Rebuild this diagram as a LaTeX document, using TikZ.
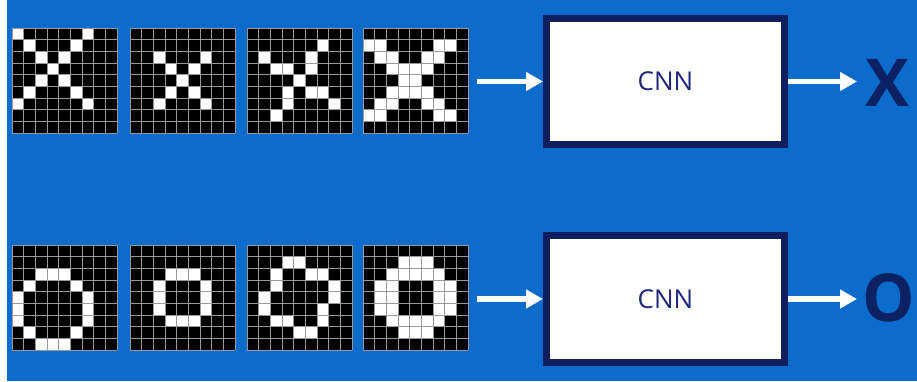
\documentclass[tikz,border=0pt]{standalone}
\usepackage{fontspec}
\setmainfont{Open Sans}
\usetikzlibrary{arrows.meta}

\definecolor{slide}{RGB}{11,108,203}
\definecolor{boxline}{RGB}{14,30,95}
\definecolor{boxtext}{RGB}{30,38,125}
\definecolor{classtext}{RGB}{12,32,100}

% side of one pixel cell (9 x 9 cells per image)
\def\cs{11.667}

\tikzset{
  gridbox/.style={fill=black, inner sep=0pt, outer sep=0pt, minimum size=105pt, anchor=north west},
  gridline/.style={draw=black!40, line width=0.8pt},
  cnnbox/.style={draw=boxline, line width=7pt, fill=white, minimum width=238pt,
    text=boxtext, font=\fontsize{26}{26}\selectfont},
  classlabel/.style={text=classtext, font=\fontsize{66}{66}\selectfont\bfseries,
    inner sep=0pt, anchor=center},
  flow/.style={draw=white, line width=5.5pt, -{Triangle[length=17pt,width=18pt]}}
}

% pixel image: name, top-left corner, list of white cells row/col
\newcommand\pixgrid[3]{%
  \node[gridbox] (#1) at (#2) {};
  \begin{scope}[shift={(#1.north west)}]
    \foreach \r/\c in {#3} \fill[white] (\c*\cs,\r*\cs) rectangle ++(\cs,\cs);
    \foreach \i in {0,...,9} {
      \draw[gridline] (\i*\cs,0) -- (\i*\cs,9*\cs);
      \draw[gridline] (0,\i*\cs) -- (9*\cs,\i*\cs);
    }
  \end{scope}
}

\begin{document}
\begin{tikzpicture}[x=1pt,y=-1pt]
\useasboundingbox (0,0) rectangle (917,381);
\fill[slide] (0,0) rectangle (917,381);
\fill[white] (0,0) rectangle (7,381);

% handwritten X samples
\pixgrid{x1}{12,28}{0/0,0/6,1/1,1/5,2/2,2/4,3/3,4/2,4/4,5/1,5/5,6/0,6/6}
\pixgrid{x2}{130,28}{2/2,2/6,3/3,3/5,4/4,5/3,5/5,6/2,6/6}
\pixgrid{x3}{247,28}{1/6,2/1,2/5,3/2,3/3,3/5,4/4,5/3,5/5,5/6,6/3,6/7,7/2}
\pixgrid{x4}{363,28}{1/0,1/1,1/6,1/7,2/1,2/2,2/5,2/6,3/2,3/3,3/4,3/5,4/3,4/4,5/2,5/3,5/4,5/5,6/1,6/2,6/5,6/6,7/0,7/1,7/6,7/7}

% handwritten O samples
\pixgrid{o1}{12,245}{2/2,2/3,2/4,3/1,3/5,4/0,4/6,5/0,5/6,6/0,6/6,7/1,7/5,8/2,8/3,8/4}
\pixgrid{o2}{130,245}{2/3,2/4,2/5,3/2,3/6,4/2,4/6,5/2,5/6,6/3,6/4,6/5}
\pixgrid{o3}{247,245}{1/3,1/4,2/2,2/5,2/6,3/2,3/7,4/1,4/7,5/1,5/6,6/2,6/3,6/6,7/4,7/5}
\pixgrid{o4}{363,245}{1/3,1/4,1/5,2/2,2/3,2/4,2/5,2/6,3/1,3/2,3/6,3/7,4/1,4/2,4/6,4/7,5/1,5/2,5/6,5/7,6/2,6/3,6/4,6/5,6/6,7/3,7/4,7/5}

% classifiers
\node[cnnbox, minimum height=126pt] (cnn1) at (665.5,81.5) {CNN};
\node[cnnbox, minimum height=127pt] (cnn2) at (665.5,299) {CNN};

% predicted classes
\node[classlabel] (xout) at (887.5,83) {X};
\node[classlabel] (oout) at (888.5,298) {O};
\coordinate (xend) at (857,81.5);
\coordinate (oend) at (857,299);

% data flow
\draw[flow] ([xshift=9pt]x4.east |- cnn1.west) -- (cnn1.west);
\draw[flow] (cnn1.east) -- (xend);
\draw[flow] ([xshift=9pt]o4.east |- cnn2.west) -- (cnn2.west);
\draw[flow] (cnn2.east) -- (oend);
\end{tikzpicture}
\end{document}
